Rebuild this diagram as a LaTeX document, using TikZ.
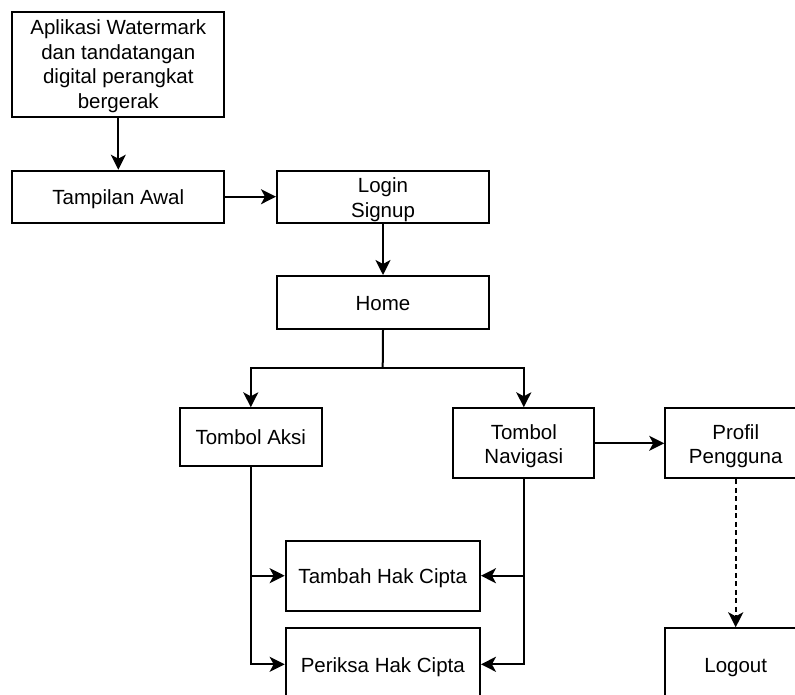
\documentclass[tikz,border=0pt]{standalone}
\usepackage{fontspec}
\setmainfont{Liberation Sans}
\usetikzlibrary{arrows.meta}
\begin{document}
\begin{tikzpicture}[x=1pt,y=-1pt,
  box/.style={draw=black,line width=2pt,rectangle,inner sep=0pt,align=center,
    font=\fontsize{20.5}{24.6}\selectfont},
  one/.style={text height=17pt,text depth=1.4pt},
  two/.style={text height=41.2pt,text depth=0pt},
  four/.style={text height=88pt,text depth=0pt},
  arr/.style={line width=2pt,-{Stealth[length=15pt,width=15pt,inset=4pt]}},
  darr/.style={arr,dash pattern=on 5pt off 3.5pt}]
\useasboundingbox (0,0) rectangle (795,695);
\node[box,four,minimum width=212pt,minimum height=105.6pt] (app) at (118.3,64.5)
  {Aplikasi Watermark\\dan tandatangan\\digital perangkat\\bergerak};
\node[box,one,minimum width=212pt,minimum height=52pt] (awal) at (118.3,196.7) {Tampilan Awal};
\node[box,two,minimum width=212pt,minimum height=52pt] (login) at (383,196.7) {Login\\Signup};
\node[box,one,minimum width=212pt,minimum height=53pt] (home) at (383,302.5) {Home};
\node[box,one,minimum width=141.5pt,minimum height=57.4pt] (aksi) at (250.8,437) {Tombol Aksi};
\node[box,two,minimum width=141pt,minimum height=70pt] (nav) at (523.8,443.3) {Tombol\\Navigasi};
\node[box,two,minimum width=141pt,minimum height=70pt] (profil) at (735.7,443.3) {Profil\\Pengguna};
\node[box,one,minimum width=194.3pt,minimum height=70pt] (tambah) at (382.8,575.7) {Tambah Hak Cipta};
\node[box,one,minimum width=194.3pt,minimum height=72pt] (periksa) at (382.8,664.3) {Periksa Hak Cipta};
\node[box,one,minimum width=141pt,minimum height=72pt] (logout) at (735.7,664.3) {Logout};
\coordinate (split) at (382.7,368.3);
\draw[arr] (app) -- (awal);
\draw[arr] (awal) -- (login);
\draw[arr] (login) -- (home);
\draw[line width=2pt] (home.south) -- (split);
\draw[arr] (split) -| (aksi.north);
\draw[arr] (split) -| (nav.north);
\draw[arr] (nav) -- (profil);
\draw[arr] (aksi.south) |- (tambah.west);
\draw[arr] (aksi.south) |- (periksa.west);
\draw[arr] (nav.south) |- (tambah.east);
\draw[arr] (nav.south) |- (periksa.east);
\draw[darr] (profil) -- (logout);
\end{tikzpicture}
\end{document}
